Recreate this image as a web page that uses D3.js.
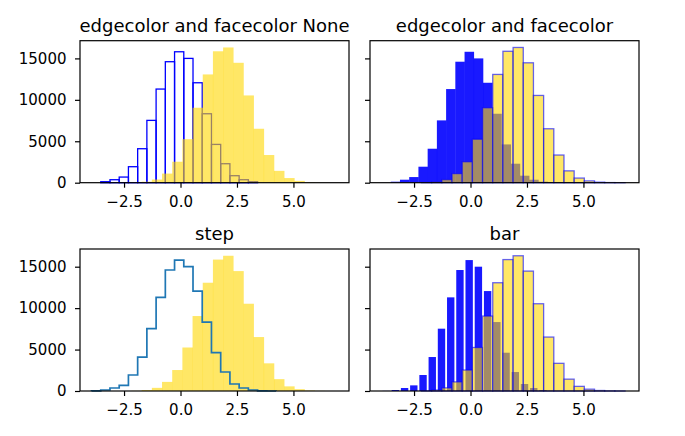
<!DOCTYPE html>
<html>
<head>
<meta charset="utf-8">
<script src="https://cdn.jsdelivr.net/npm/d3@7"></script>
<style>
  body { margin: 0; background: #fff; }
  text { font-family: "DejaVu Sans", sans-serif; fill: #000; }
</style>
</head>
<body>
<div id="chart"></div>
<script>
// bin edges (20 bins each) and counts
const blueStart = -3.94, blueWidth = 0.4085;
const yellowStart = -2.17, yellowWidth = 0.4506;
const blueCounts = [15, 120, 360, 680, 1930, 4100, 7520, 11300, 14600, 15800,
                    15000, 12060, 8320, 4620, 2290, 845, 360, 120, 20, 3];
const yellowCounts = [20, 120, 380, 1100, 2530, 5250, 9045, 13065, 15860, 16320,
                      14470, 10530, 6510, 3340, 1430, 560, 220, 60, 15, 3];
const titles = ["edgecolor and facecolor None", "edgecolor and facecolor", "step", "bar"];
const xTicks = [-2.5, 0, 2.5, 5];
const yTicks = [0, 5000, 10000, 15000];
const xLimits = [-4.45, 7.46];
const yLimits = [0, 17136];

const toBins = (start, w, counts) => counts.map((c, i) => ({x0: start + i * w, x1: start + (i + 1) * w, c: c}));
const blueBins = toBins(blueStart, blueWidth, blueCounts);
const yellowBins = toBins(yellowStart, yellowWidth, yellowCounts);

const svg = d3.select("#chart").append("svg")
    .attr("width", 685)
    .attr("height", 436);
svg.append("rect").attr("width", 685).attr("height", 436).attr("fill", "#fff");

const cols = [80, 370];
const rows = [40.7, 249];
const w = 269, h = 142;

const x = d3.scaleLinear().domain(xLimits).range([0, w]);
const y = d3.scaleLinear().domain(yLimits).range([h, 0]);

titles.forEach((title, i) => {
    const col = i % 2, row = Math.floor(i / 2);
    const g = svg.append("g").attr("transform", `translate(${cols[col]},${rows[row]})`);
    const plot = g.append("g");

    // blue series
    if (i === 0) {
        plot.selectAll("rect.blue").data(blueBins.filter(d => y(0) - y(d.c) > 0.5)).enter().append("rect")
            .attr("x", d => x(d.x0)).attr("width", d => x(d.x1) - x(d.x0))
            .attr("y", d => y(d.c)).attr("height", d => y(0) - y(d.c))
            .attr("fill", "none").attr("stroke", "blue").attr("stroke-width", 1.3);
    } else if (i === 1) {
        plot.selectAll("rect.blue").data(blueBins).enter().append("rect")
            .attr("x", d => x(d.x0)).attr("width", d => x(d.x1) - x(d.x0) + 0.3)
            .attr("y", d => y(d.c)).attr("height", d => y(0) - y(d.c))
            .attr("fill", "blue").attr("fill-opacity", 0.9);
    } else if (i === 3) {
        plot.selectAll("rect.blue").data(blueBins).enter().append("rect")
            .attr("x", d => x(d.x0 + 0.1 * (d.x1 - d.x0)))
            .attr("width", d => x(d.x0 + 0.9 * (d.x1 - d.x0)) - x(d.x0 + 0.1 * (d.x1 - d.x0)))
            .attr("y", d => y(d.c)).attr("height", d => y(0) - y(d.c))
            .attr("fill", "blue").attr("fill-opacity", 0.9);
    }

    // yellow series
    const yl = plot.selectAll("rect.yellow").data(yellowBins).enter().append("rect")
        .attr("x", d => x(d.x0)).attr("width", d => x(d.x1) - x(d.x0) + (i === 0 || i === 2 ? 0.3 : 0))
        .attr("y", d => y(d.c)).attr("height", d => y(0) - y(d.c))
        .attr("fill", "gold").attr("fill-opacity", 0.6);
    if (i === 1 || i === 3) {
        yl.attr("stroke", "blue").attr("stroke-opacity", 0.6).attr("stroke-width", 1.3);
    }

    // step outline drawn on top
    if (i === 2) {
        const pts = [[blueBins[0].x0, 0]];
        blueBins.forEach(d => { pts.push([d.x0, d.c]); pts.push([d.x1, d.c]); });
        pts.push([blueBins[blueBins.length - 1].x1, 0]);
        plot.append("path")
            .attr("d", d3.line().x(p => x(p[0])).y(p => y(p[1]))(pts))
            .attr("fill", "none").attr("stroke", "#1f77b4").attr("stroke-width", 1.7);
    }

    // axes
    const xAxis = g.append("g").attr("transform", `translate(0,${h})`)
        .call(d3.axisBottom(x).tickValues(xTicks).tickFormat(d3.format(".1f"))
            .tickSize(5).tickPadding(8.3).tickSizeOuter(0));
    const yAxis = g.append("g")
        .call(d3.axisLeft(y).tickValues(yTicks).tickFormat(col === 0 ? d3.format("d") : "")
            .tickSize(5).tickPadding(8.5).tickSizeOuter(0));
    [xAxis, yAxis].forEach(a => {
        a.select(".domain").remove();
        a.selectAll("line").attr("stroke", "#000").attr("stroke-width", 1.2);
        a.selectAll("text").attr("font-size", 15).attr("font-family", "DejaVu Sans").attr("fill", "#000");
    });

    g.append("rect").attr("width", w).attr("height", h)
        .attr("fill", "none").attr("stroke", "#000").attr("stroke-width", 1.2);

    g.append("text").attr("x", w / 2).attr("y", -8.6)
        .attr("text-anchor", "middle").attr("font-size", 18)
        .text(title);
});
</script>
</body>
</html>
